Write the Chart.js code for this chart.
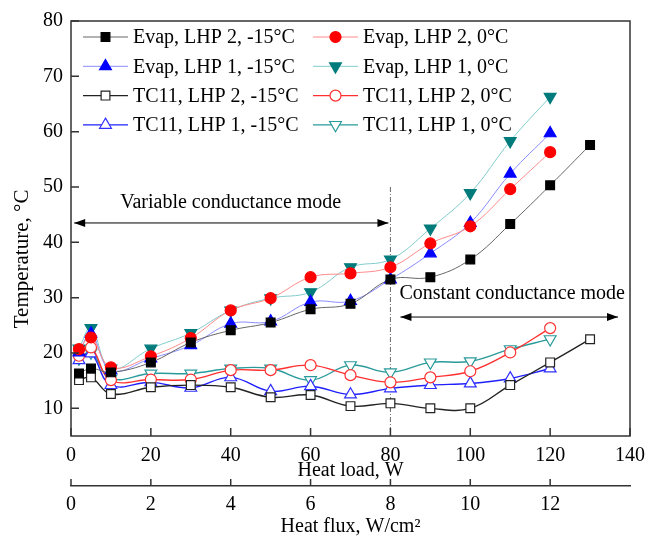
<!DOCTYPE html>
<html>
<head>
<meta charset="utf-8">
<script src="https://cdn.jsdelivr.net/npm/chart.js@4"></script>
<style>
  body { margin: 0; background: #fff; }
</style>
</head>
<body>
<canvas id="lhpChart" width="653" height="553"></canvas>
<script>
// heat loads, W
const loadLong = [2, 5, 10, 20, 30, 40, 50, 60, 70, 80, 90, 100, 110, 120, 130];
const loadShort = [2, 5, 10, 20, 30, 40, 50, 60, 70, 80, 90, 100, 110, 120];

// temperatures, °C
const evapLhp2Minus15 = [16.3, 17.2, 16.5, 18.3, 21.9, 24.1, 25.5, 27.9, 28.9, 33.3, 33.7, 36.9, 43.3, 50.3, 57.6];
const evapLhp2Zero = [20.7, 22.8, 17.4, 19.4, 22.7, 27.7, 29.9, 33.7, 34.4, 35.5, 39.8, 42.9, 49.6, 56.3];
const evapLhp1Minus15 = [20.1, 23.5, 16.9, 19.0, 21.4, 25.3, 25.7, 29.2, 29.4, 33.3, 38.0, 43.5, 52.4, 59.7];
const evapLhp1Zero = [20.8, 24.5, 17.2, 20.8, 23.6, 27.7, 29.9, 31.0, 35.5, 36.9, 42.5, 48.9, 58.3, 66.3];
const tc11Lhp2Minus15 = [15.1, 15.6, 12.6, 13.8, 14.2, 13.8, 12.0, 12.4, 10.4, 10.9, 10.0, 10.0, 14.2, 18.3, 22.5];
const tc11Lhp2Zero = [19.5, 21.0, 15.1, 15.2, 15.2, 16.9, 16.9, 17.8, 16.0, 14.7, 15.6, 16.7, 20.1, 24.5];
const tc11Lhp1Minus15 = [18.7, 19.9, 14.2, 14.7, 13.7, 15.6, 13.1, 14.0, 12.5, 13.6, 14.2, 14.5, 15.4, 17.2];
const tc11Lhp1Zero = [19.0, 20.1, 15.4, 16.3, 16.3, 17.2, 17.2, 15.1, 17.8, 16.5, 18.3, 18.5, 20.7, 22.5];

const seriesLabels = [
  "Evap, LHP 2, -15°C", "Evap, LHP 2, 0°C",
  "Evap, LHP 1, -15°C", "Evap, LHP 1, 0°C",
  "TC11, LHP 2, -15°C", "TC11, LHP 2, 0°C",
  "TC11, LHP 1, -15°C", "TC11, LHP 1, 0°C"
];

const FONT = "'Liberation Serif', 'Times New Roman', serif";
Chart.defaults.font.family = FONT;
Chart.defaults.font.size = 20;
Chart.defaults.color = "#000";

const pts = (xs, ys) => ys.map((y, i) => ({ x: xs[i], y: y }));

function series(label, xs, ys, line, marker, style, filled, lineWidth, rot) {
  return {
    label: label,
    data: pts(xs, ys),
    borderColor: line,
    borderWidth: lineWidth,
    tension: 0.4,
    pointStyle: style,
    pointRotation: rot || 0,
    pointRadius: style === "rect" ? 6.2 : style === "circle" ? 5.5 : 6.8,
    pointBackgroundColor: filled ? marker : "#fff",
    pointBorderColor: marker,
    pointBorderWidth: 1.2,
  };
}

const datasets = [
  series(seriesLabels[0], loadLong, evapLhp2Minus15, "#666", "#000", "rect", true, 1),
  series(seriesLabels[1], loadShort, evapLhp2Zero, "#ff8a8a", "#f00", "circle", true, 1),
  series(seriesLabels[2], loadShort, evapLhp1Minus15, "#8a8aff", "#00f", "triangle", true, 1),
  series(seriesLabels[3], loadShort, evapLhp1Zero, "#80cccc", "#007b7b", "triangle", true, 1, 180),
  series(seriesLabels[4], loadLong, tc11Lhp2Minus15, "#222", "#222", "rect", false, 1.4),
  series(seriesLabels[5], loadShort, tc11Lhp2Zero, "#ff3030", "#ff3030", "circle", false, 1.4),
  series(seriesLabels[6], loadShort, tc11Lhp1Minus15, "#2020ff", "#3030ff", "triangle", false, 1.4),
  series(seriesLabels[7], loadShort, tc11Lhp1Zero, "#2a9a9a", "#2a9a9a", "triangle", false, 1.4, 180),
];

function arrowHead(ctx, x, y, dir) {
  ctx.beginPath();
  ctx.moveTo(x, y);
  ctx.lineTo(x - dir * 11, y - 4);
  ctx.lineTo(x - dir * 11, y + 4);
  ctx.closePath();
  ctx.fill();
}

function doubleArrow(ctx, xs, ys, x1, x2, y) {
  const px1 = xs.getPixelForValue(x1), px2 = xs.getPixelForValue(x2), py = ys.getPixelForValue(y);
  ctx.beginPath();
  ctx.moveTo(px1, py);
  ctx.lineTo(px2, py);
  ctx.stroke();
  arrowHead(ctx, px1, py, -1);
  arrowHead(ctx, px2, py, 1);
}

const decor = {
  id: "decor",
  beforeDatasetsDraw(chart) {
    const { ctx, scales: { x, y } } = chart;
    // mode boundary at 80 W
    ctx.save();
    ctx.strokeStyle = "#444";
    ctx.lineWidth = 0.8;
    ctx.setLineDash([5, 2, 1, 2]);
    ctx.beginPath();
    ctx.moveTo(x.getPixelForValue(80), y.getPixelForValue(50));
    ctx.lineTo(x.getPixelForValue(80), y.getPixelForValue(5));
    ctx.stroke();
    ctx.restore();
  },
  afterDraw(chart) {
    const { ctx, chartArea: a, scales: { x, y, x2 } } = chart;
    ctx.save();
    ctx.strokeStyle = "#333";
    ctx.lineWidth = 1.5;
    ctx.strokeRect(a.left, a.top, a.right - a.left, a.bottom - a.top);

    // inward ticks
    ctx.beginPath();
    y.ticks.forEach(t => {
      const py = y.getPixelForValue(t.value);
      ctx.moveTo(a.left, py);
      ctx.lineTo(a.left + 8, py);
    });
    x.ticks.forEach(t => {
      const px = x.getPixelForValue(t.value);
      ctx.moveTo(px, a.bottom);
      ctx.lineTo(px, a.bottom - 8);
    });
    x2.ticks.forEach(t => {
      const px = x2.getPixelForValue(t.value);
      ctx.moveTo(px, x2.top);
      ctx.lineTo(px, x2.top - 7);
    });
    ctx.stroke();

    // annotations
    ctx.strokeStyle = "#000";
    ctx.fillStyle = "#000";
    ctx.lineWidth = 1;
    doubleArrow(ctx, x, y, 0.8, 79.5, 43.5);
    doubleArrow(ctx, x, y, 82.5, 137, 26.5);
    ctx.font = "20px " + FONT;
    ctx.textAlign = "center";
    ctx.textBaseline = "middle";
    ctx.fillText("Variable conductance mode", x.getPixelForValue(40), y.getPixelForValue(47.2));
    ctx.fillText("Constant conductance mode", x.getPixelForValue(110.5), y.getPixelForValue(30.7));

    // y axis title
    ctx.save();
    ctx.translate(22, y.getPixelForValue(37));
    ctx.rotate(-Math.PI / 2);
    ctx.font = "21px " + FONT;
    ctx.fillText("Temperature, °C", 0, 0);
    ctx.restore();

    // legend, two columns
    chart.data.datasets.forEach((ds, i) => {
      const col = i % 2, row = Math.floor(i / 2);
      const lx0 = a.left + 12 + col * 230;
      const lx1 = lx0 + 45;
      const ly = a.top + 16 + row * 29.3;
      ctx.strokeStyle = ds.borderColor;
      ctx.lineWidth = ds.borderWidth;
      ctx.beginPath();
      ctx.moveTo(lx0, ly);
      ctx.lineTo(lx1, ly);
      ctx.stroke();
      ctx.fillStyle = ds.pointBackgroundColor;
      ctx.strokeStyle = ds.pointBorderColor;
      ctx.lineWidth = ds.pointBorderWidth;
      Chart.helpers.drawPoint(ctx, {
        pointStyle: ds.pointStyle,
        rotation: ds.pointRotation,
        radius: ds.pointRadius,
        borderWidth: ds.pointBorderWidth
      }, (lx0 + lx1) / 2, ly);
      ctx.fillStyle = "#000";
      ctx.textAlign = "left";
      ctx.font = "20px " + FONT;
      ctx.fillText(ds.label, lx1 + 5, ly + 1);
    });
    ctx.restore();
  }
};

new Chart(document.getElementById("lhpChart"), {
  type: "line",
  data: { datasets: datasets },
  options: {
    responsive: false,
    animation: false,
    devicePixelRatio: 1,
    layout: { padding: { top: 21, right: 16, left: 0, bottom: 0 } },
    plugins: { legend: { display: false }, tooltip: { enabled: false } },
    scales: {
      x: {
        type: "linear",
        position: "bottom",
        weight: 0,
        min: 0,
        max: 140,
        ticks: { stepSize: 20, padding: 8 },
        grid: { display: false, drawTicks: false },
        border: { display: false },
        title: { display: true, text: "Heat load, W", padding: { top: 0, bottom: 3 } },
        afterFit: s => { s.height = 50; }
      },
      x2: {
        type: "linear",
        position: "bottom",
        weight: 1,
        min: 0,
        max: 14,
        ticks: { stepSize: 2, padding: 7 },
        afterBuildTicks: s => { s.ticks = s.ticks.filter(t => t.value <= 12); },
        grid: { display: false, drawTicks: false },
        border: { display: true, color: "#333", width: 1.5 },
        title: { display: true, text: "Heat flux, W/cm²", padding: { top: 0, bottom: 14 } },
        afterFit: s => { s.height = 67; }
      },
      y: {
        type: "linear",
        min: 5,
        max: 80,
        ticks: { stepSize: 10, padding: 8 },
        afterBuildTicks: s => { s.ticks = s.ticks.filter(t => t.value % 10 === 0); },
        grid: { display: false, drawTicks: false },
        border: { display: false },
        afterFit: s => { s.width = 71; }
      }
    }
  },
  plugins: [decor]
});
</script>
</body>
</html>
